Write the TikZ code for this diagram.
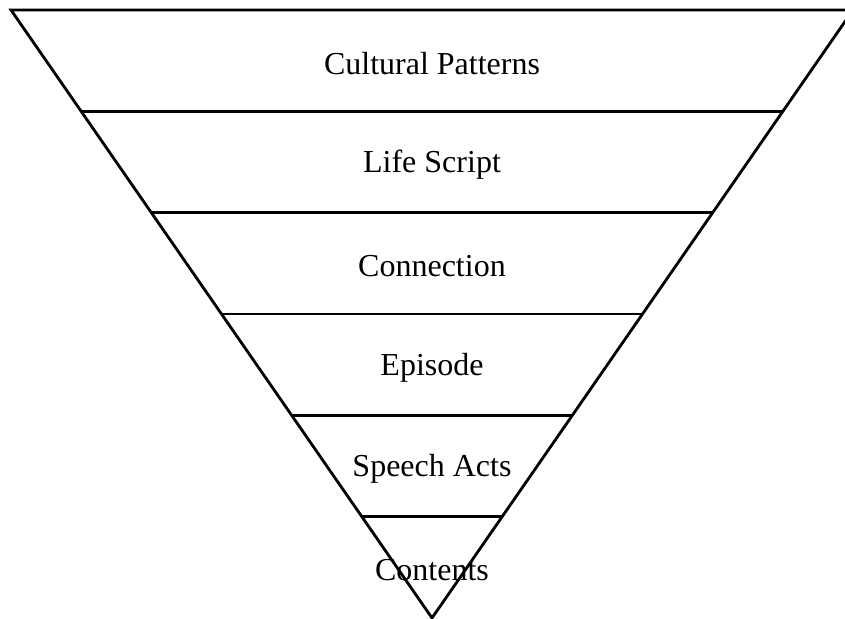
\documentclass[tikz,border=0pt]{standalone}
\usepackage{fontspec}
\setmainfont{Liberation Serif}
\usetikzlibrary{calc}

\tikzset{
    edge/.style={line width=1.4pt, black},
    levellabel/.style={font=\fontsize{16}{19}\selectfont, inner sep=0pt, yshift=-1.5pt}
}

\begin{document}
\begin{tikzpicture}[x=0.5pt,y=-0.5pt]
            % Fix the page size
            \clip (0,0) rectangle (845,619);

            % Corners of the funnel
            \coordinate (tl) at (11,10);
            \coordinate (tr) at (853,10);
            \coordinate (ap) at (432,618);

            % Draw the funnel
            \draw[edge, line join=miter] (ap) -- (tl) -- (tr) -- cycle;

            % Draw the five dividing lines
            \foreach \k in {1,...,5}
                \draw[edge] ($(tl)!\k/6!(ap)$) -- ($(tr)!\k/6!(ap)$);

            % Labels of the levels
            \node[levellabel] (cultural) at ($(tl)!0.5!(tr)!0.5/6!(ap)$) {Cultural Patterns};
            \node[levellabel] (life) at ($(tl)!0.5!(tr)!1.5/6!(ap)$) {Life Script};
            \node[levellabel] (connection) at ($(tl)!0.5!(tr)!2.5/6!(ap)$) {Connection};
            \node[levellabel] (episode) at ($(tl)!0.5!(tr)!3.5/6!(ap)$) {Episode};
            \node[levellabel] (speech) at ($(tl)!0.5!(tr)!4.5/6!(ap)$) {Speech Acts};
            \node[levellabel] (contents) at ($(tl)!0.5!(tr)!5.5/6!(ap)$) {Contents};
\end{tikzpicture}
\end{document}
